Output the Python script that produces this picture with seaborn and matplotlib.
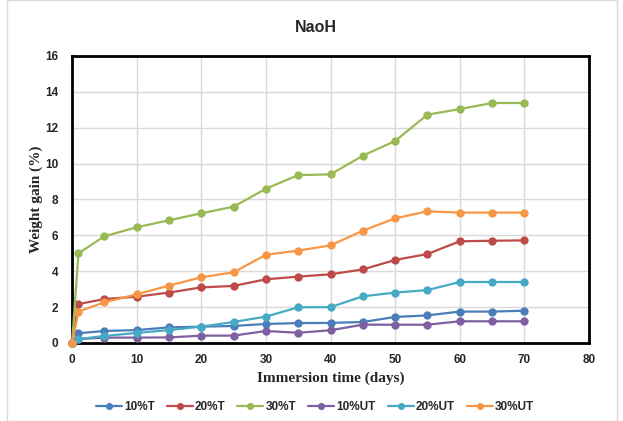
import matplotlib
matplotlib.use("Agg")
import matplotlib.pyplot as plt
import seaborn as sns
import pandas as pd
from matplotlib.patches import Rectangle

days = [0, 1, 5, 10, 15, 20, 25, 30, 35, 40, 45, 50, 55, 60, 65, 70]
t10 = [0, 0.54, 0.67, 0.72, 0.87, 0.91, 0.95, 1.06, 1.11, 1.12, 1.17, 1.45, 1.54, 1.75, 1.75, 1.80]
t20 = [0, 2.17, 2.45, 2.58, 2.81, 3.10, 3.18, 3.55, 3.70, 3.83, 4.10, 4.63, 4.96, 5.67, 5.70, 5.72]
t30 = [0, 5.00, 5.95, 6.45, 6.84, 7.23, 7.60, 8.60, 9.36, 9.40, 10.44, 11.26, 12.73, 13.04, 13.38, 13.38]
ut10 = [0, 0.22, 0.30, 0.30, 0.31, 0.41, 0.41, 0.67, 0.57, 0.71, 1.02, 1.02, 1.02, 1.21, 1.21, 1.21]
ut20 = [0, 0.22, 0.39, 0.56, 0.72, 0.91, 1.17, 1.47, 1.99, 2.00, 2.60, 2.81, 2.95, 3.40, 3.40, 3.40]
ut30 = [0, 1.75, 2.27, 2.71, 3.20, 3.66, 3.94, 4.92, 5.15, 5.44, 6.26, 6.95, 7.34, 7.27, 7.27, 7.27]

series_names = ["10%T", "20%T", "30%T", "10%UT", "20%UT", "30%UT"]
series_vals = [t10, t20, t30, ut10, ut20, ut30]
colors = ["#4A7EBB", "#BE4B48", "#98B954", "#7D60A0", "#46AAC5", "#F79646"]

x_ticks = [0, 10, 20, 30, 40, 50, 60, 70, 80]
y_ticks = [0, 2, 4, 6, 8, 10, 12, 14, 16]

rows = []
for name, vals in zip(series_names, series_vals):
    for d, v in zip(days, vals):
        rows.append({"Series": name, "Day": d, "Gain": v})
df = pd.DataFrame(rows)

sns.set_theme(style="white")
plt.rcParams['font.family'] = ['Liberation Sans', 'DejaVu Sans']

fig = plt.figure(figsize=(6.23, 4.21), dpi=100)
ax = fig.add_axes([0.1156, 0.1853, 0.8298, 0.6817])

sns.lineplot(data=df, x="Day", y="Gain", hue="Series", hue_order=series_names,
             palette=colors, marker="o", markersize=6, markeredgewidth=0,
             linewidth=1.6, ax=ax, legend=True, sort=False)
for i, ln in enumerate(ax.lines):
    ln.set_clip_on(False)
    ln.set_zorder(3 + 0.01 * i)

ax.set_xlim(0, 80)
ax.set_ylim(0, 16)
ax.set_xticks(x_ticks)
ax.set_yticks(y_ticks)
ax.set_xticklabels([str(t) for t in x_ticks], fontsize=8.5, fontweight="bold")
ax.set_yticklabels([str(t) for t in y_ticks], fontsize=8.5, fontweight="bold")
ax.tick_params(axis="x", length=0, pad=8)
ax.tick_params(axis="y", length=0, pad=10)
ax.grid(True, color="#D9D9D9", linewidth=1.0)
ax.set_axisbelow(True)
for s in ax.spines.values():
    s.set_visible(True)
    s.set_color("black")
    s.set_linewidth(2.0)
    s.set_zorder(2.5)

ax.set_xlabel("Immersion time (days)", fontsize=11, fontweight="bold",
              family=["Liberation Serif", "DejaVu Serif"], labelpad=4)
ax.set_ylabel("Weight gain (%)", fontsize=11, fontweight="bold",
              family=["Liberation Serif", "DejaVu Serif"])
ax.yaxis.set_label_coords(-0.056, 0.5)
fig.text(0.5065, 0.935, "NaoH", ha="center", va="center", fontsize=11.5, fontweight="bold")

handles, labels = ax.get_legend_handles_labels()
ax.get_legend().remove()
leg = fig.legend(handles, labels, loc="center", bbox_to_anchor=(0.5056, 0.033), ncol=6,
                 frameon=False, fontsize=8.5, handlelength=2.2, columnspacing=1.0,
                 handletextpad=0.2, markerscale=0.85)
for t in leg.get_texts():
    t.set_fontweight("bold")

fig.patches.append(Rectangle((0.011, 0.0), 0.98, 1.0, transform=fig.transFigure,
                             fill=False, edgecolor="#D9D9D9", linewidth=1.0))

fig.savefig("out.png", dpi=100)
